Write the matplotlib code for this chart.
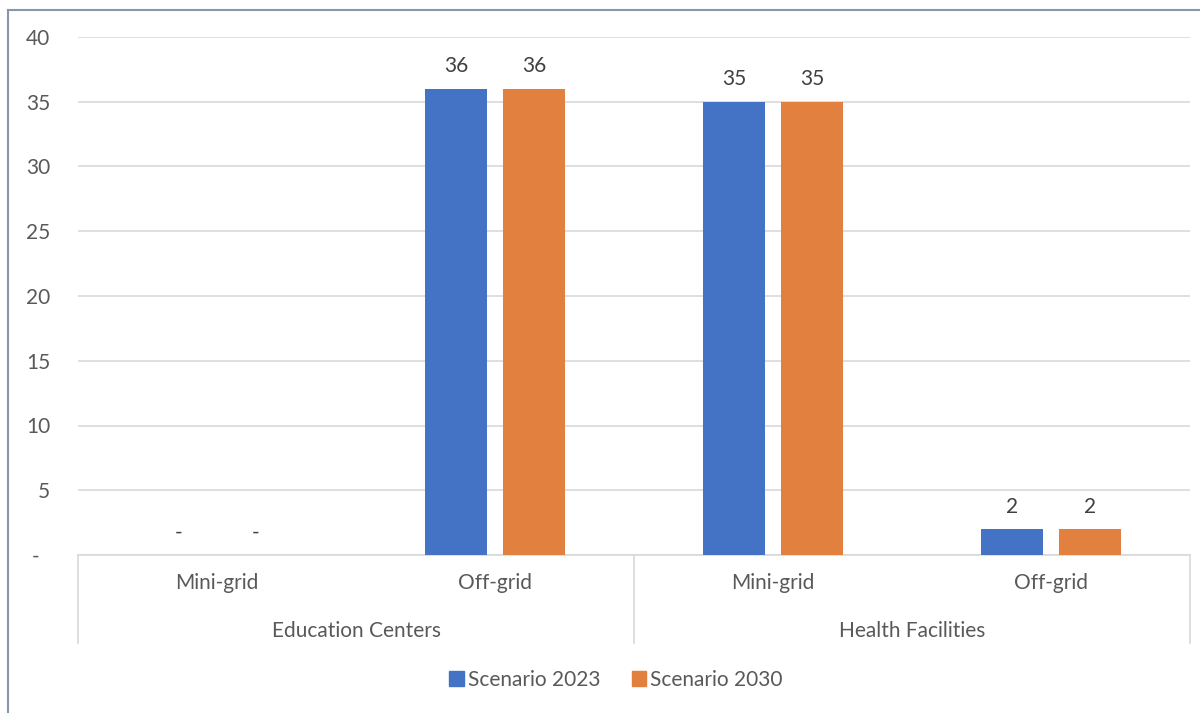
import matplotlib
matplotlib.use("Agg")
import matplotlib.pyplot as plt
import numpy as np
from matplotlib.lines import Line2D
from matplotlib.patches import Patch

plt.rcParams['font.family'] = ['Lato', 'DejaVu Sans']

# Data
groups = ["Education Centers", "Health Facilities"]
subcats = ["Mini-grid", "Off-grid", "Mini-grid", "Off-grid"]
series_names = ["Scenario 2023", "Scenario 2030"]
scenario_2023 = [0, 36, 35, 2]
scenario_2030 = [0, 36, 35, 2]
yticks = [0, 5, 10, 15, 20, 25, 30, 35, 40]
ytick_labels = ["-  ", "5", "10", "15", "20", "25", "30", "35", "40"]

colors = ["#4472c4", "#e2803f"]
tick_color = "#595959"
label_color = "#404040"
grid_color = "#d9d9d9"
fs = 15

W, H = 1200, 713
fig = plt.figure(figsize=(W / 100, H / 100), dpi=100)
ax = fig.add_axes([78 / W, 1 - 555 / H, (1190 - 78) / W, (555 - 37) / H])

x = np.arange(len(subcats))
bw = 0.223
off = 0.14
for vals, c, dx in [(scenario_2023, colors[0], -off), (scenario_2030, colors[1], off)]:
    bars = ax.bar(x + dx, vals, width=bw, color=c, zorder=3)
    for b, v in zip(bars, vals):
        txt = "-" if v == 0 else f"{v:g}"
        ax.annotate(txt, (b.get_x() + b.get_width() / 2, v), xytext=(0, 9),
                    textcoords="offset points", ha="center", va="bottom",
                    fontsize=fs, color=label_color)

ax.set_xlim(-0.5, len(subcats) - 0.5)
ax.set_ylim(0, 40)
ax.set_yticks(yticks)
ax.set_yticklabels(ytick_labels)
ax.tick_params(axis="y", length=0, pad=20, labelsize=fs, labelcolor=tick_color)
ax.set_xticks([])
ax.yaxis.grid(True, color=grid_color, linewidth=1.2, zorder=0)
for s in ["top", "right", "left"]:
    ax.spines[s].set_visible(False)
ax.spines["bottom"].set_color(grid_color)
ax.spines["bottom"].set_linewidth(1.2)

# Category and group labels with separators below the axis
trans = ax.get_xaxis_transform()
for xi, name in zip(x, subcats):
    ax.text(xi, -0.054, name, transform=trans, ha="center", va="center",
            fontsize=fs, color=tick_color)
for gi, g in enumerate(groups):
    ax.text(gi * 2 + 0.5, -0.147, g, transform=trans, ha="center", va="center",
            fontsize=fs, color=tick_color)
for sx in [-0.5, 1.5, 3.5]:
    ax.add_line(Line2D([sx, sx], [0, -0.17], transform=trans, color=grid_color,
                       linewidth=1.2, clip_on=False))

# Legend
handles = [Patch(color=c, label=n) for c, n in zip(colors, series_names)]
fig.legend(handles=handles, loc="center", bbox_to_anchor=(616 / W, 1 - 680 / H),
           ncol=2, frameon=False, fontsize=fs, handlelength=0.7,
           handleheight=0.7, handletextpad=0.2, columnspacing=1.5,
           labelcolor=tick_color)

# Outer frame edges
frame_color = "#8a96ad"
fig.add_artist(Line2D([8 / W, 8 / W], [0, 1 - 10 / H], transform=fig.transFigure,
                      color=frame_color, linewidth=1.5))
fig.add_artist(Line2D([8 / W, 1], [1 - 10 / H, 1 - 10 / H], transform=fig.transFigure,
                      color=frame_color, linewidth=1.5))

fig.savefig("out.png", dpi=100)
